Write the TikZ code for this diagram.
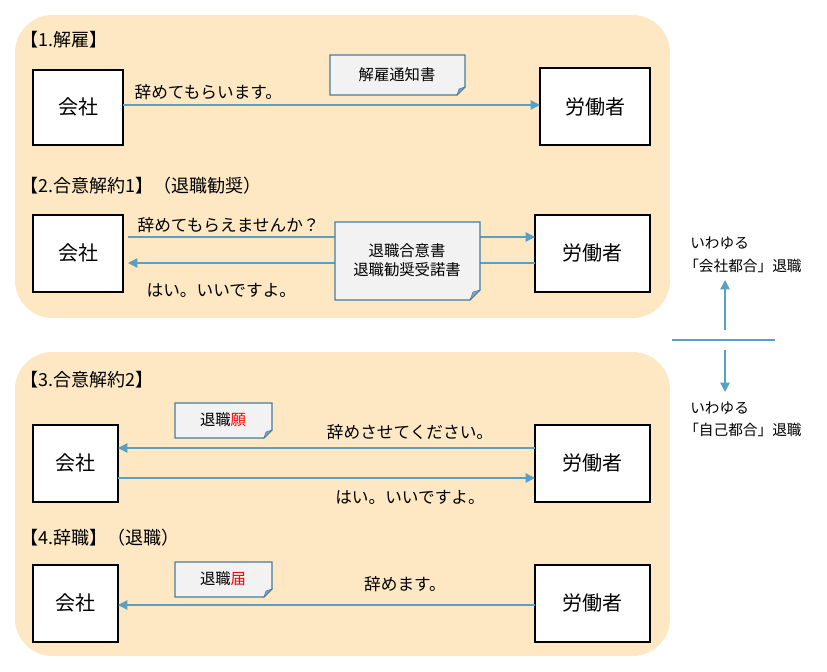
\documentclass[tikz,border=0pt]{standalone}
\usepackage{fontspec}
\setmainfont{Noto Sans CJK JP}
\usetikzlibrary{arrows.meta}
\definecolor{panel}{HTML}{FDE8C3}
\definecolor{arr}{HTML}{5AA0C4}
\definecolor{docb}{HTML}{4A7B9D}
\definecolor{docf}{HTML}{F2F2F2}
\begin{document}
\begin{tikzpicture}[x=0.75pt,y=-0.75pt,
  box/.style={draw=black,fill=white,line width=0.8pt,font=\fontsize{15}{17}\selectfont},
  lbl/.style={font=\fontsize{12.5}{14}\selectfont,inner sep=1pt},
  hdr/.style={font=\fontsize{13.5}{15}\selectfont,anchor=west,inner sep=0pt},
  sm/.style={font=\fontsize{11}{12}\selectfont,anchor=west,inner sep=0pt},
  ar/.style={draw=arr,line width=1pt,-{Triangle[length=7pt,width=7pt]}},
  doc/.style={font=\fontsize{11.5}{14}\selectfont,align=center}]
\useasboundingbox (0,0) rectangle (827,671);
\fill[panel,rounded corners=28pt] (15,15) rectangle (670,318);
\fill[panel,rounded corners=28pt] (15,352) rectangle (670,656);
% headers
\node[hdr] (h1) at (20,40) {【1.解雇】};
\node[hdr] (h2) at (20,186) {【2.合意解約1】（退職勧奨）};
\node[hdr] (h3) at (20,380) {【3.合意解約2】};
\node[hdr] (h4) at (20,538) {【4.辞職】（退職）};
% boxes
\path[box] (33,70) rectangle (123,145); \node[box,draw=none,fill=none] (c1) at (78,107) {会社};
\path[box] (540,68) rectangle (650,145); \node[box,draw=none,fill=none] (w1) at (595,107) {労働者};
\path[box] (33,215) rectangle (123,292); \node[box,draw=none,fill=none] (c2) at (78,253) {会社};
\path[box] (535,215) rectangle (650,292); \node[box,draw=none,fill=none] (w2) at (592,253) {労働者};
\path[box] (33,425) rectangle (118,502); \node[box,draw=none,fill=none] (c3) at (75,463) {会社};
\path[box] (535,425) rectangle (650,502); \node[box,draw=none,fill=none] (w3) at (592,463) {労働者};
\path[box] (33,565) rectangle (118,642); \node[box,draw=none,fill=none] (c4) at (75,603) {会社};
\path[box] (535,565) rectangle (650,642); \node[box,draw=none,fill=none] (w4) at (592,603) {労働者};
% row 1
\coordinate (a1s) at (123,105); \coordinate (a1e) at (540,105);
\draw[ar] (a1s) -- (a1e);
\node[lbl,anchor=west] (t1) at (133,92) {辞めてもらいます。};
\draw[draw=docb,fill=docf,line width=1pt] (330,55) -- (465,55) -- (465,87) -- (457,95) -- (330,95) -- cycle;
\draw[draw=docb,fill=docb!70] (465,87) -- (459,89) -- (457,95) -- cycle;
\node[doc] (d1) at (397,75) {解雇通知書};
% row 2
\coordinate (a2s) at (128,237); \coordinate (a2e) at (535,237);
\coordinate (b2s) at (535,263); \coordinate (b2e) at (128,263);
\draw[ar] (a2s) -- (a2e);
\draw[ar] (b2s) -- (b2e);
\node[lbl,anchor=west] (t2) at (136,225) {辞めてもらえませんか？};
\node[lbl,anchor=west] (t3) at (145,290) {はい。いいですよ。};
\draw[draw=docb,fill=docf,line width=1pt] (335,222) -- (480,222) -- (480,290) -- (470,300) -- (335,300) -- cycle;
\draw[draw=docb,fill=docb!70] (480,290) -- (473,292) -- (470,300) -- cycle;
\node[doc] (d2) at (407,260) {退職合意書\\退職勧奨受諾書};
% row 3
\coordinate (a3s) at (535,448); \coordinate (a3e) at (118,448);
\coordinate (b3s) at (118,478); \coordinate (b3e) at (535,478);
\draw[ar] (a3s) -- (a3e);
\draw[ar] (b3s) -- (b3e);
\node[lbl] (t4) at (410,432) {辞めさせてください。};
\node[lbl] (t5) at (410,497) {はい。いいですよ。};
\draw[draw=docb,fill=docf,line width=1pt] (175,403) -- (272,403) -- (272,430) -- (264,438) -- (175,438) -- cycle;
\draw[draw=docb,fill=docb!70] (272,430) -- (266,432) -- (264,438) -- cycle;
\node[doc] (d3) at (223,420) {退職\textcolor{red}{願}};
% row 4
\coordinate (a4s) at (535,605); \coordinate (a4e) at (118,605);
\draw[ar] (a4s) -- (a4e);
\node[lbl] (t6) at (405,584) {辞めます。};
\draw[draw=docb,fill=docf,line width=1pt] (175,562) -- (272,562) -- (272,589) -- (264,597) -- (175,597) -- cycle;
\draw[draw=docb,fill=docb!70] (272,589) -- (266,591) -- (264,597) -- cycle;
\node[doc] (d4) at (223,579) {退職\textcolor{red}{届}};
% right side
\coordinate (l1) at (672,340); \coordinate (l2) at (775,340);
\draw[draw=arr,line width=1pt] (l1) -- (l2);
\coordinate (u1) at (725,330); \coordinate (u2) at (725,280);
\coordinate (v1) at (725,350); \coordinate (v2) at (725,392);
\draw[ar] (u1) -- (u2);
\draw[ar] (v1) -- (v2);
\node[sm] (r1) at (690,243) {いわゆる};
\node[sm] (r2) at (684,266) {「会社都合」退職};
\node[sm] (r3) at (690,408) {いわゆる};
\node[sm] (r4) at (684,430) {「自己都合」退職};
\end{tikzpicture}
\end{document}
